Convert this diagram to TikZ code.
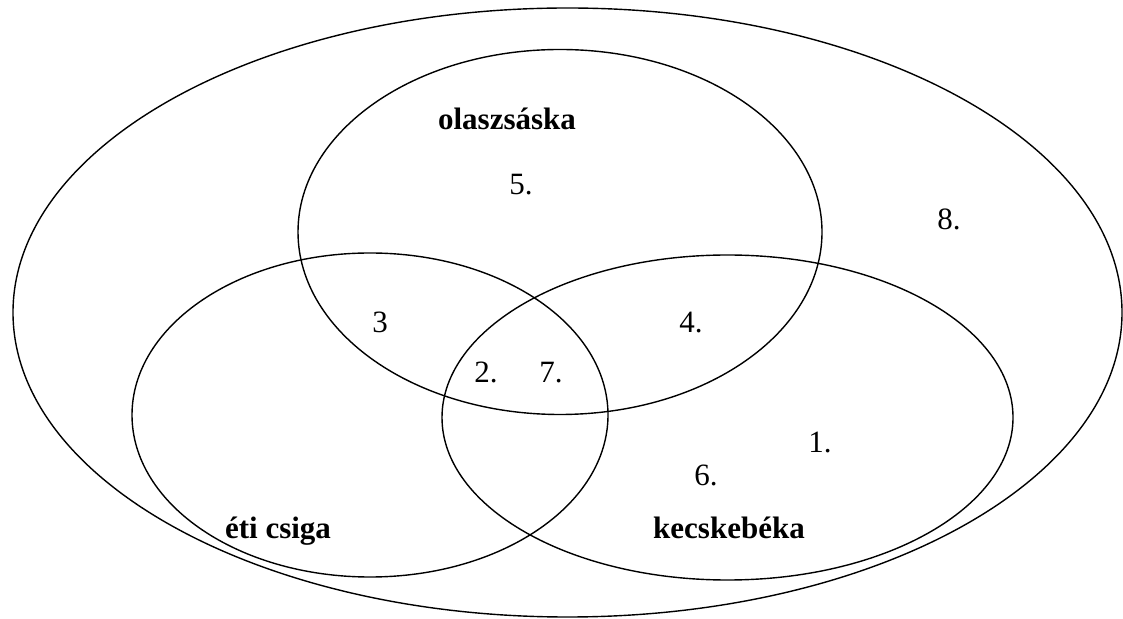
\documentclass[tikz,border=0pt]{standalone}
\usepackage{fontspec}
\setmainfont{Liberation Serif}
\usetikzlibrary{shapes.geometric}

\begin{document}
\begin{tikzpicture}[x=1pt, y=1pt, line width=1.4pt]
\tikzstyle{set}=[draw=black, ellipse, inner sep=0pt, outer sep=0pt]
\tikzstyle{setname}=[font=\fontsize{31}{37}\selectfont\bfseries, anchor=base]
\tikzstyle{num}=[font=\fontsize{31}{37}\selectfont, anchor=base]
\useasboundingbox (0,0) rectangle (1123,618);

% universe and the three sets
\node[set, minimum width=1109pt, minimum height=609pt] (U) at (567.5,305.5) {};
\node[set, minimum width=524pt, minimum height=365pt]  (olasz) at (560,386) {};
\node[set, minimum width=476pt, minimum height=324pt]  (csiga) at (370,203) {};
\node[set, minimum width=571pt, minimum height=325pt]  (beka)  at (727.5,200.5) {};

% set names
\node[setname] (Lolasz) at (507,488) {olaszsáska};
\node[setname] (Lcsiga) at (278,80)  {éti csiga};
\node[setname] (Lbeka)  at (729,80)  {kecskebéka};

% elements
\node[num] (n5) at (521,423) {5.};
\node[num] (n8) at (949,388) {8.};
\node[num] (n3) at (380,285) {3};
\node[num] (n4) at (691,285) {4.};
\node[num] (n2) at (486,235) {2.};
\node[num] (n7) at (551,235) {7.};
\node[num] (n1) at (820,165) {1.};
\node[num] (n6) at (706,132) {6.};
\end{tikzpicture}
\end{document}
